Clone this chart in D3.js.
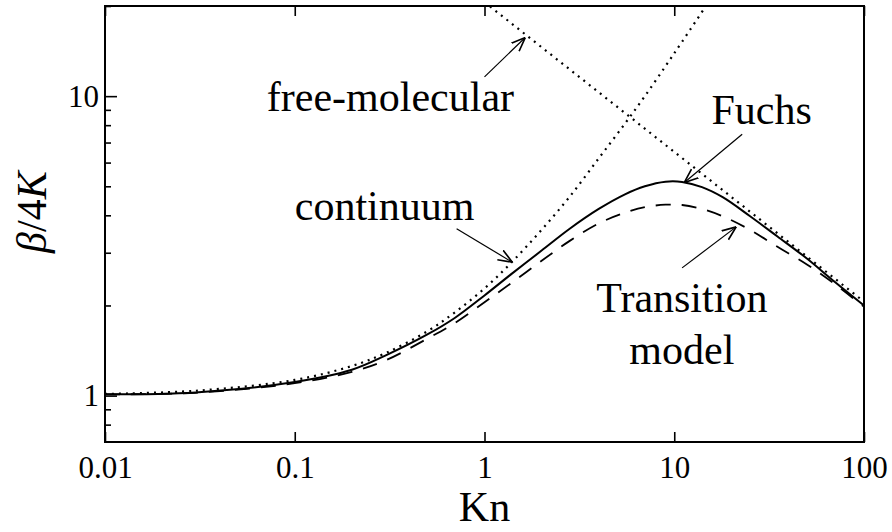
<!DOCTYPE html>
<html>
<head>
<meta charset="utf-8">
<script src="https://cdn.jsdelivr.net/npm/d3@7"></script>
<style>
  body { margin: 0; background: #fff; }
  svg text { font-family: "Liberation Serif", "Times New Roman", serif; fill: #000; }
</style>
</head>
<body>
<div id="chart"></div>
<script>
// values (Kn on x, beta/4K on y)
var knGrid = [0.01, 0.03, 0.1, 0.2, 0.3, 0.5, 0.7, 1, 1.4, 2, 2.8, 4, 5.5, 7, 9, 11, 14, 18, 25, 35, 50, 70, 100];
var fuchs = [1.01, 1.025, 1.11, 1.22, 1.36, 1.6, 1.82, 2.16, 2.56, 3.05, 3.6, 4.2, 4.7, 5.0, 5.18, 5.17, 4.97, 4.6, 3.98, 3.4, 2.87, 2.4, 2.0];
var transition = [1.01, 1.022, 1.1, 1.2, 1.31, 1.55, 1.75, 2.05, 2.39, 2.82, 3.28, 3.76, 4.08, 4.26, 4.34, 4.33, 4.2, 3.97, 3.58, 3.14, 2.74, 2.36, 1.98];

var contKn = [0.01, 0.03, 0.1, 0.2, 0.3, 0.5, 0.7, 1, 1.4, 2, 2.8, 4, 5.5, 7, 9, 11, 15];
var continuum = [1.013, 1.038, 1.128, 1.256, 1.385, 1.64, 1.9, 2.28, 2.8, 3.58, 4.6, 6.2, 8.1, 10.0, 12.6, 15.2, 20.4];

var freeKn = [1, 100];
var freeMolecular = [20.6, 2.06];

var xTicks = [0.01, 0.1, 1, 10, 100];
var xTickLabels = ["0.01", "0.1", "1", "10", "100"];
var yMajor = [1, 10];
var yMinor = [0.8, 0.9, 2, 3, 4, 5, 6, 7, 8, 9, 20];

// annotations in data units: label anchor and arrow from -> to
var notes = [
    {text: "free-molecular", at: [0.0713, 8.91], from: [1.0, 11.6], to: [1.64, 15.7]},
    {text: "continuum", at: [0.1, 3.87], from: [0.713, 3.61], to: [1.4, 2.79]},
    {text: "Fuchs", at: [15.7, 8.05], from: [22.8, 7.46], to: [11.3, 5.15]},
    {text: "Transition", at: [3.88, 1.9], from: [11.0, 2.67], to: [21.2, 3.66]},
    {text: "model", at: [5.8, 1.28]}
];

(function (d3) {
    var margin = {top: 6, right: 28, bottom: 90, left: 105};
    var width = 892 - margin.left - margin.right;
    var height = 532 - margin.top - margin.bottom;

    var svg = d3.select("#chart").append("svg")
        .attr("width", 892)
        .attr("height", 532);

    var defs = svg.append("defs");
    defs.append("clipPath").attr("id", "plot-clip")
        .append("rect").attr("width", width).attr("height", height);
    defs.append("marker")
        .attr("id", "arrow")
        .attr("viewBox", "0 -5 10 10")
        .attr("refX", 10).attr("refY", 0)
        .attr("markerWidth", 14).attr("markerHeight", 14)
        .attr("markerUnits", "userSpaceOnUse")
        .attr("orient", "auto")
        .append("path")
        .attr("d", "M0,-4L10,0L0,4")
        .attr("fill", "none")
        .attr("stroke", "#000")
        .attr("stroke-width", 1.2);

    var g = svg.append("g")
        .attr("transform", "translate(" + margin.left + "," + margin.top + ")");

    var x = d3.scaleLog().domain([0.01, 100]).range([0, width]);
    var y = d3.scaleLog().domain([0.7, 20]).range([height, 0]);

    // axes
    var bottom = g.append("g")
        .attr("transform", "translate(0," + height + ")")
        .call(d3.axisBottom(x).tickValues(xTicks).tickSize(-10).tickPadding(14)
              .tickFormat(function(d, i) { return xTickLabels[i]; }));
    bottom.selectAll("text").style("font-size", "31px").attr("dy", "0.71em");

    g.append("g")
        .call(d3.axisTop(x).tickValues(xTicks).tickSize(-10).tickFormat(""));

    var left = g.append("g")
        .call(d3.axisLeft(y).tickValues(yMajor).tickSize(-12).tickPadding(6)
              .tickFormat(d3.format("d")));
    left.selectAll("text").style("font-size", "31px").attr("x", -6);

    g.append("g")
        .call(d3.axisLeft(y).tickValues(yMinor).tickSize(-6).tickFormat(""));

    g.selectAll(".domain").remove();
    g.selectAll(".tick line").attr("stroke", "#000").attr("stroke-width", 1.6);

    g.append("rect")
        .attr("width", width).attr("height", height)
        .attr("fill", "none").attr("stroke", "#000").attr("stroke-width", 2);

    // curves
    var line = d3.line()
        .x(function(d) { return x(d[0]); })
        .y(function(d) { return y(d[1]); })
        .curve(d3.curveCatmullRom.alpha(0.5));

    var straight = d3.line()
        .x(function(d) { return x(d[0]); })
        .y(function(d) { return y(d[1]); });

    var curves = g.append("g").attr("clip-path", "url(#plot-clip)");

    curves.append("path")
        .datum(d3.zip(freeKn, freeMolecular))
        .attr("d", straight)
        .attr("fill", "none").attr("stroke", "#000")
        .attr("stroke-width", 2.2).attr("stroke-dasharray", "2,5");

    curves.append("path")
        .datum(d3.zip(contKn, continuum))
        .attr("d", line)
        .attr("fill", "none").attr("stroke", "#000")
        .attr("stroke-width", 2.2).attr("stroke-dasharray", "2,5");

    curves.append("path")
        .datum(d3.zip(knGrid, transition))
        .attr("d", line)
        .attr("fill", "none").attr("stroke", "#000")
        .attr("stroke-width", 1.8).attr("stroke-dasharray", "15,11");

    curves.append("path")
        .datum(d3.zip(knGrid, fuchs))
        .attr("d", line)
        .attr("fill", "none").attr("stroke", "#000")
        .attr("stroke-width", 2);

    // annotations
    var ann = g.append("g");
    ann.selectAll("text")
        .data(notes)
        .enter()
        .append("text")
        .attr("x", function(d) { return x(d.at[0]); })
        .attr("y", function(d) { return y(d.at[1]); })
        .style("font-size", "42px")
        .text(function(d) { return d.text; });

    ann.selectAll("line")
        .data(notes.filter(function(d) { return d.from; }))
        .enter()
        .append("line")
        .attr("x1", function(d) { return x(d.from[0]); })
        .attr("y1", function(d) { return y(d.from[1]); })
        .attr("x2", function(d) { return x(d.to[0]); })
        .attr("y2", function(d) { return y(d.to[1]); })
        .attr("stroke", "#000").attr("stroke-width", 1.2)
        .attr("marker-end", "url(#arrow)");

    // axis titles
    svg.append("text")
        .attr("x", margin.left + x(1))
        .attr("y", 521)
        .attr("text-anchor", "middle")
        .style("font-size", "42px")
        .text("Kn");

    var yl = svg.append("text")
        .attr("transform", "translate(46," + (margin.top + y(4.1)) + ") rotate(-90)")
        .attr("text-anchor", "middle")
        .style("font-size", "42px");
    yl.append("tspan").style("font-style", "italic").text("β");
    yl.append("tspan").text("/4");
    yl.append("tspan").style("font-style", "italic").text("K");

})(d3);
</script>
</body>
</html>
